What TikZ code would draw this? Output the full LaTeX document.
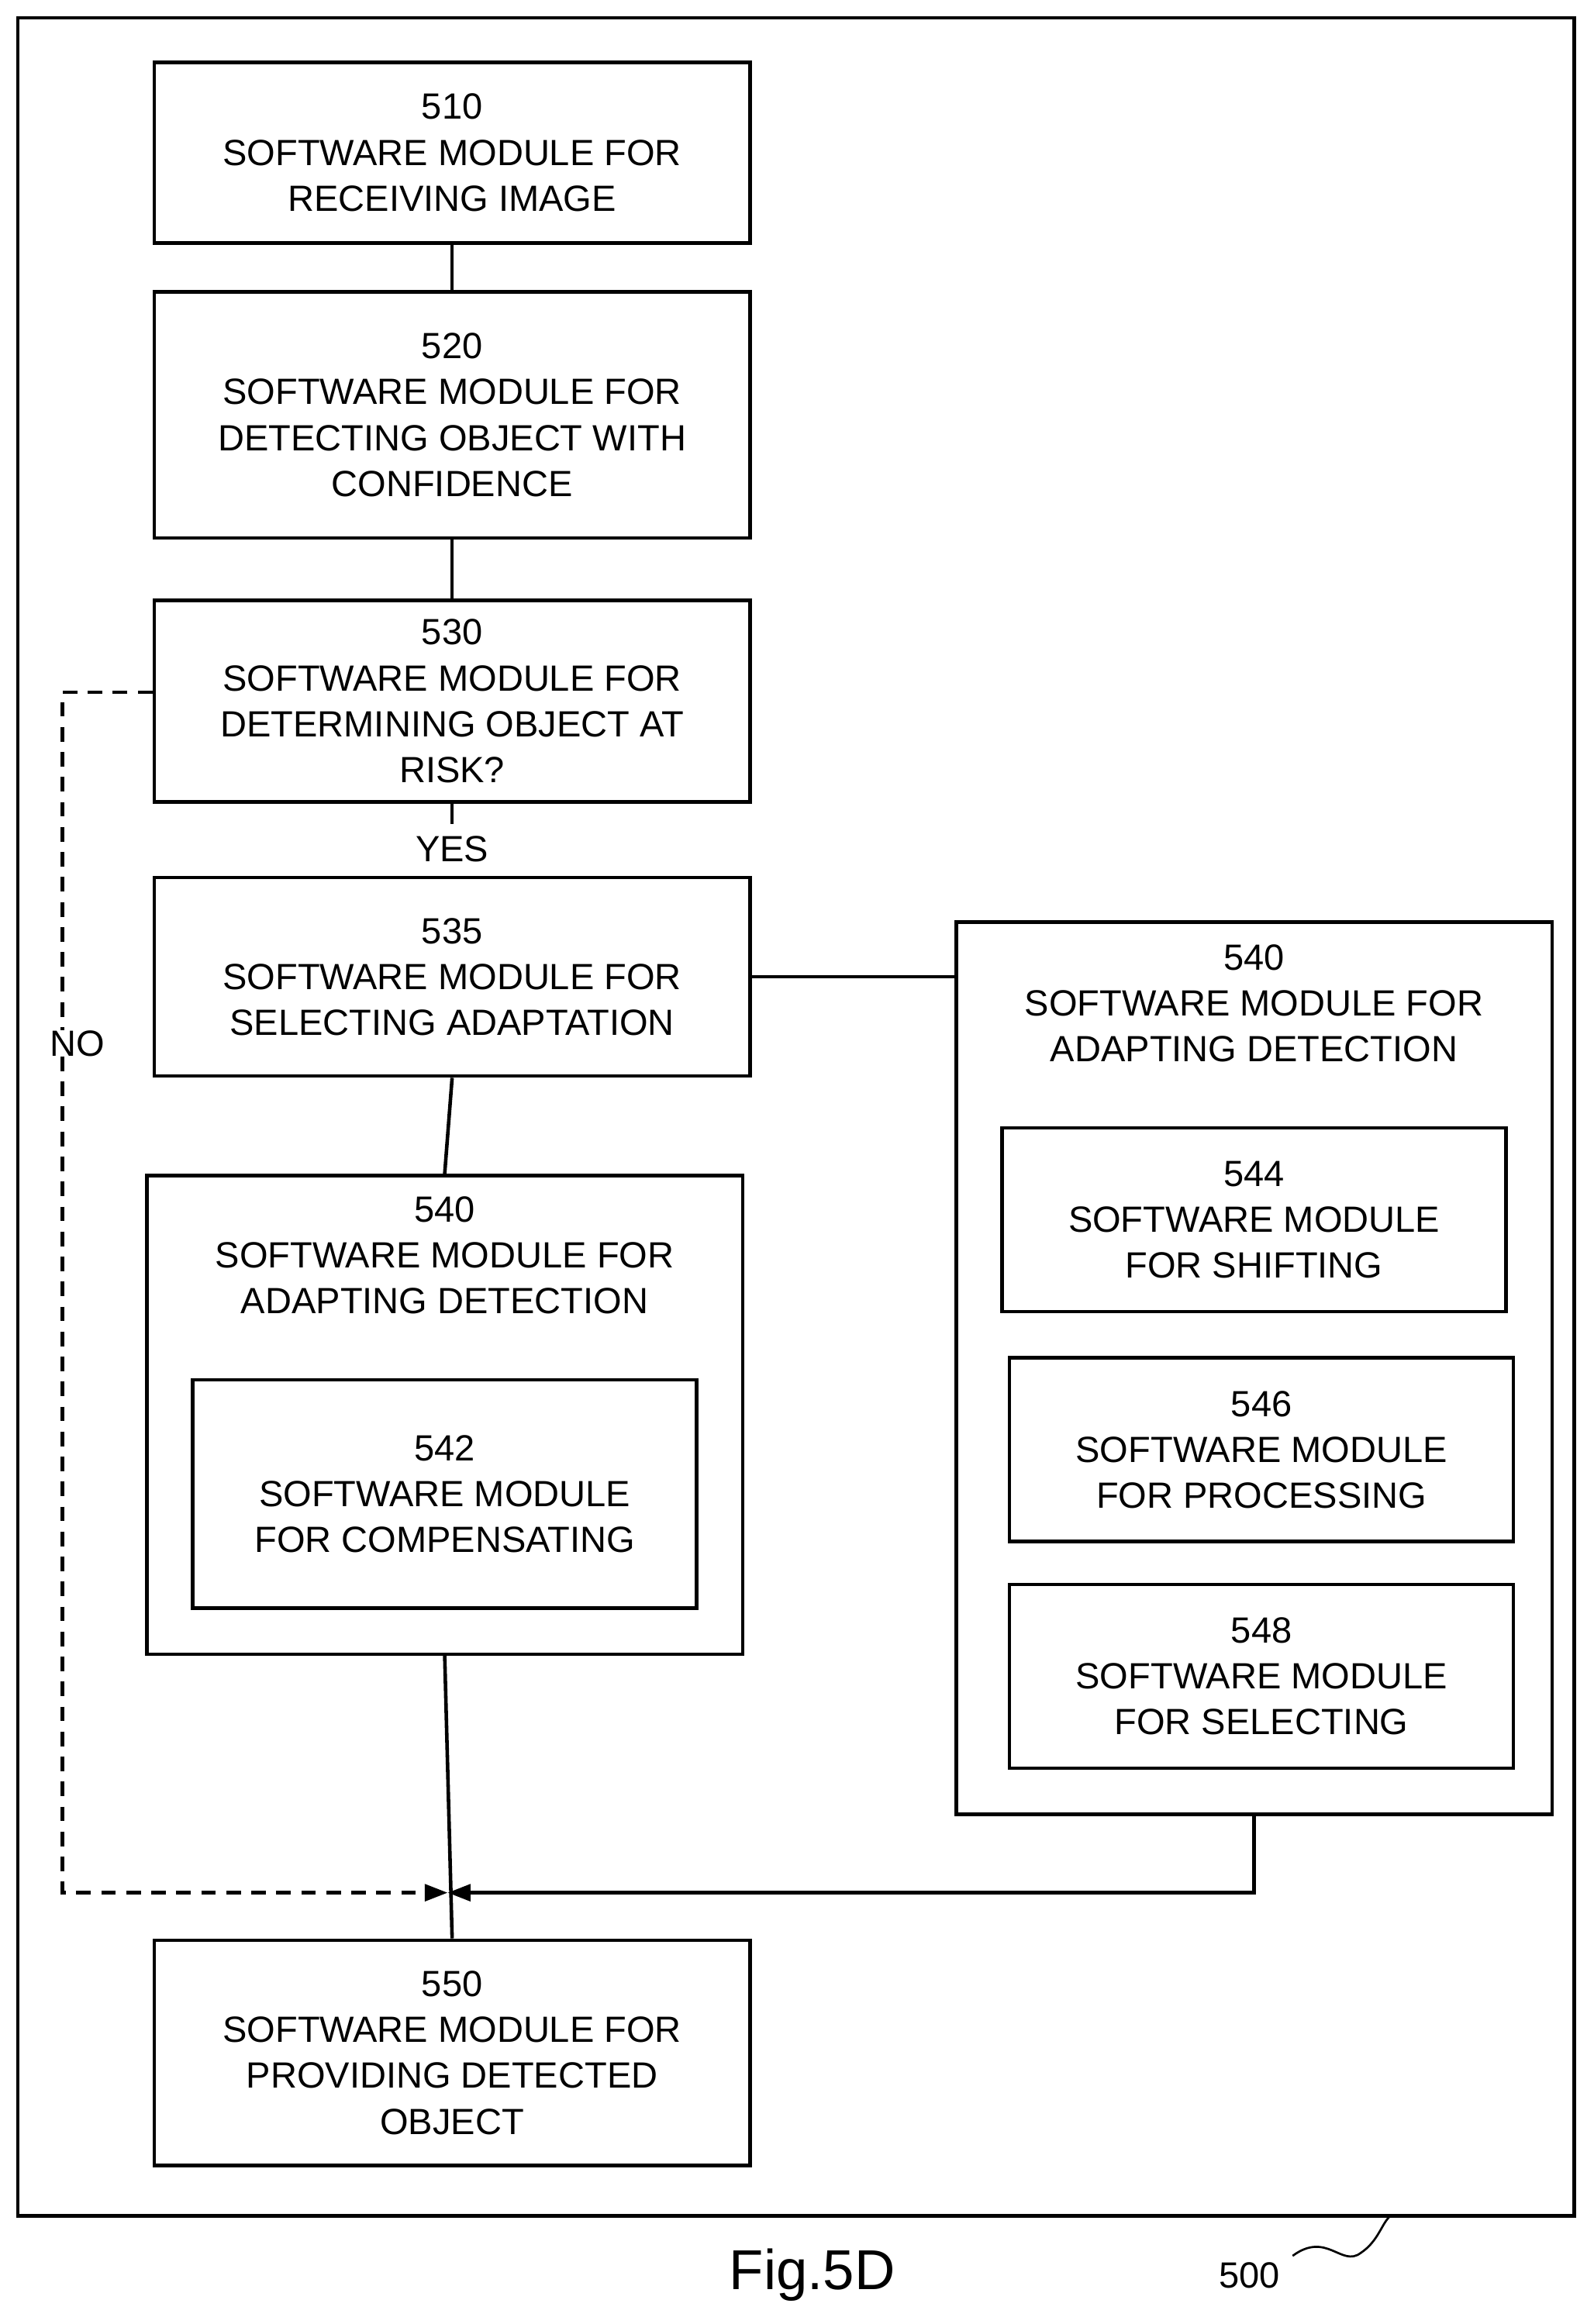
\documentclass[tikz,border=0pt]{standalone}
\usepackage{fontspec}
\setmainfont{Liberation Sans}
\usetikzlibrary{arrows.meta}
\begin{document}
\begin{tikzpicture}[x=0.05cm,y=-0.05cm,
  every node/.style={font=\fontsize{35}{44}\selectfont, align=center, inner sep=0pt},
  ln/.style={line width=3.4pt},
  box/.style={draw, line width=3.4pt}]
\newcommand{\Bx}[6]{\node[box, minimum width={(#4-#2)*0.05cm}, minimum height={(#5-#3)*0.05cm}] (#1) at ({(#2+#4)/2},{(#3+#5)/2}) {#6};}
\useasboundingbox (0,0) rectangle (1075,1568);
\draw[ln] (12,12) rectangle (1062,1495);
\Bx{b510}{104}{42}{506}{164}{510\\SOFTWARE MODULE FOR\\RECEIVING IMAGE}
\Bx{b520}{104}{197}{506}{363}{520\\SOFTWARE MODULE FOR\\DETECTING OBJECT WITH\\CONFIDENCE}
\Bx{b530}{104}{405}{506}{541}{530\\SOFTWARE MODULE FOR\\DETERMINING OBJECT AT\\RISK?}
\Bx{b535}{104}{592}{506}{726}{535\\SOFTWARE MODULE FOR\\SELECTING ADAPTATION}
\Bx{r540}{645}{622}{1047}{1224}{}
\node (r540t) at (846,677) {540\\SOFTWARE MODULE FOR\\ADAPTING DETECTION};
\Bx{b544}{676}{761}{1016}{885}{544\\SOFTWARE MODULE\\FOR SHIFTING}
\Bx{b546}{681}{916}{1021}{1040}{546\\SOFTWARE MODULE\\FOR PROCESSING}
\Bx{b548}{681}{1069}{1021}{1193}{548\\SOFTWARE MODULE\\FOR SELECTING}
\Bx{l540}{99}{793}{501}{1116}{}
\node (l540t) at (300,847) {540\\SOFTWARE MODULE FOR\\ADAPTING DETECTION};
\Bx{b542}{130}{931}{470}{1085}{542\\SOFTWARE MODULE\\FOR COMPENSATING}
\Bx{b550}{104}{1309}{506}{1461}{550\\SOFTWARE MODULE FOR\\PROVIDING DETECTED\\OBJECT}
\node (yes) at (305,573) {YES};
\node (no) at (52,704) {NO};
\coordinate (m) at (302,1277);
\coordinate (nl) at (42,1277);
\coordinate (nt) at (42,467);
\draw[ln] (b510.south) -- (b520.north);
\draw[ln] (b520.south) -- (b530.north);
\draw[ln] (b530.south) -- ++(0,14);
\draw[ln] (b535.east) -- (b535.east -| r540.west);
\draw[ln] (b535.south) -- (l540.north);
\draw[ln] (l540.south) -- (b550.north);
\draw[ln, dash pattern=on 14pt off 10pt] (b530.west |- nt) -- (nt) -- (no.north -| nt);
\draw[ln, dash pattern=on 14pt off 10pt, -{Triangle[length=22pt,width=16pt]}] (no.south -| nt) -- (nl) -- (m);
\draw[ln, -{Triangle[length=22pt,width=16pt]}] (r540.south) |- (m);
\node[font=\fontsize{54}{60}\selectfont] (fig) at (548,1535) {Fig.5D};
\node (n500) at (843,1535) {500};
\draw[line width=2pt] (872,1522) .. controls (895,1505) and (905,1530) .. (918,1520) .. controls (930,1512) and (932,1500) .. (938,1495);
\end{tikzpicture}
\end{document}
